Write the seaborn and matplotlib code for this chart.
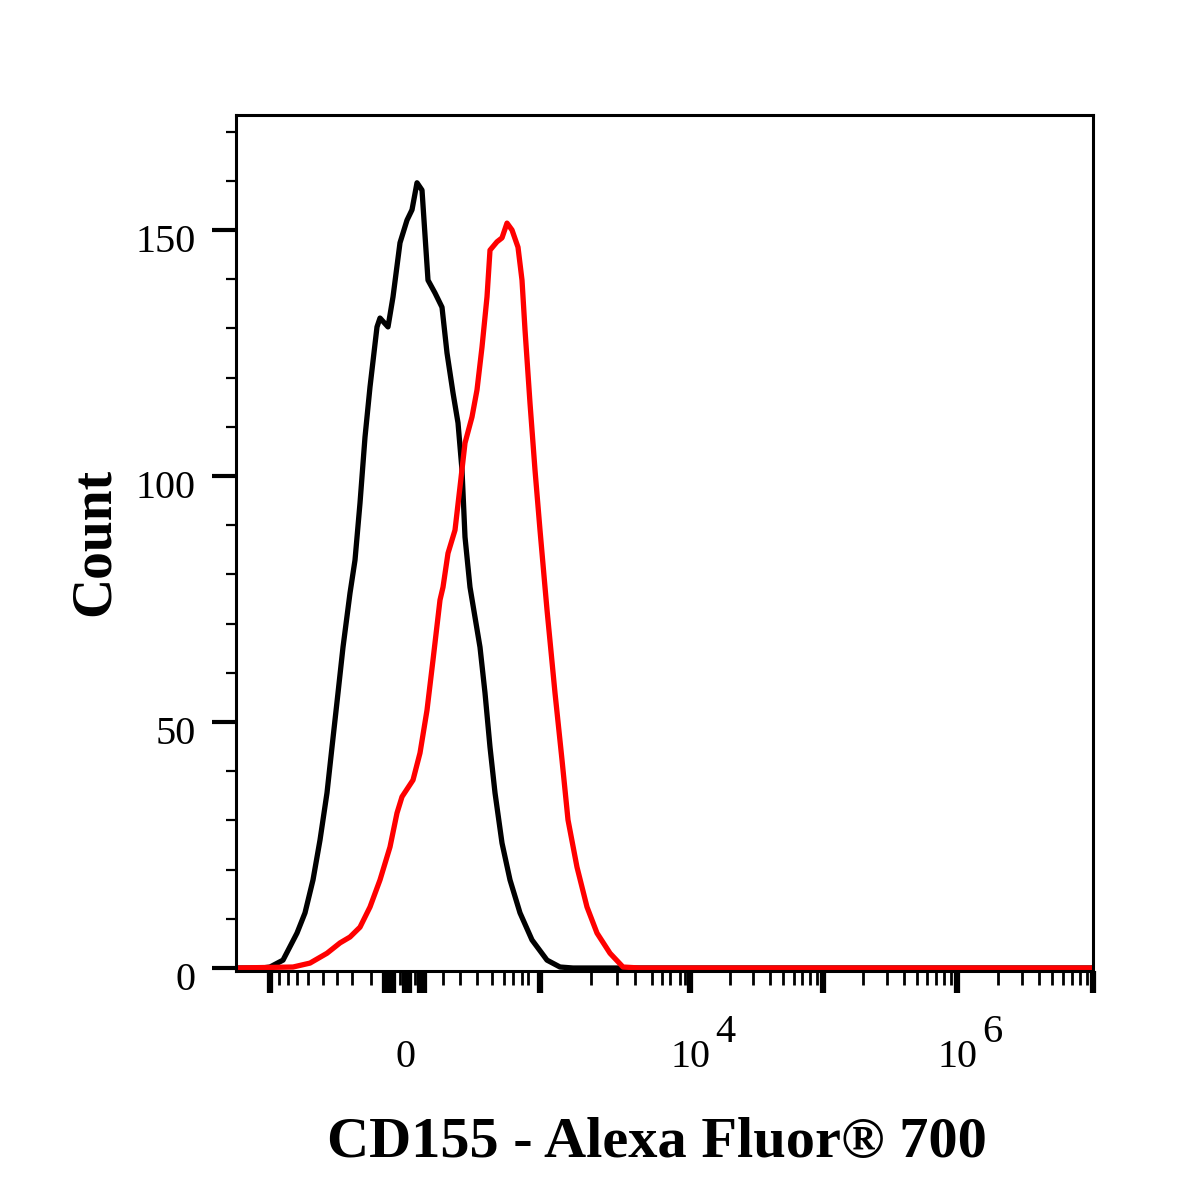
import numpy as np
import pandas as pd
import matplotlib
matplotlib.use("Agg")
import matplotlib.pyplot as plt
import matplotlib.transforms as mtransforms
import seaborn as sns

# display channel across the plot (0-857) and event counts
isotype_channel = [0, 26, 34, 47, 61, 69, 77, 84, 91, 96, 102, 107, 114, 119, 124, 129, 134, 141, 144, 152,
                   157, 164, 171, 176, 181, 186, 192, 199, 206, 211, 217, 222, 226, 229, 234, 244, 249, 254,
                   259, 266, 274, 284, 296, 311, 324, 337, 857]
isotype_count = [0, 0, 0.2, 1.6, 7.1, 11.2, 17.9, 26.0, 35.6, 44.9, 55.9, 65.2, 76.2, 82.9, 94.5, 107.9, 118.1,
                 130.3, 132.1, 130.3, 136.4, 147.4, 152.0, 154.1, 159.6, 158.1, 139.8, 137.2, 134.3, 125.0,
                 116.9, 110.8, 101.2, 87.6, 77.4, 65.2, 55.9, 44.9, 35.6, 25.4, 17.9, 11.2, 5.7, 1.6, 0.2, 0, 0]

cd155_channel = [0, 57, 74, 91, 104, 114, 124, 134, 144, 154, 161, 166, 177, 184, 191, 197, 204, 207, 212, 219,
                 224, 229, 236, 241, 246, 251, 254, 261, 266, 271, 276, 282, 286, 289, 294, 299, 304, 309, 311,
                 319, 326, 332, 341, 351, 361, 374, 387, 404, 857]
cd155_count = [0, 0.2, 1.0, 3.0, 5.1, 6.3, 8.3, 12.4, 17.9, 24.6, 31.5, 34.8, 38.2, 43.7, 52.4, 62.6, 74.8, 77.4,
               84.3, 89.0, 97.8, 106.7, 112.0, 117.5, 126.2, 136.4, 145.9, 147.6, 148.4, 151.4, 150.0, 146.5,
               139.8, 129.7, 114.8, 101.2, 89.0, 77.4, 72.8, 55.9, 42.3, 30.1, 20.5, 12.4, 7.1, 3.0, 0.2, 0, 0]

# biexponential axis: tick positions in display channels
x_major_pos = [34, 149, 153, 157, 169, 173, 184, 188, 304, 454, 587, 721, 857]
x_major_labels = ["", "", "", "", "0", "", "", "", "", "10", "", "10", ""]
x_exponents = {454: "4", 721: "6"}
x_minor_pos = [43, 52, 61, 72, 87, 101, 116, 135, 164, 179,
               207, 224, 241, 256, 268, 277, 286, 292,
               355, 381, 399, 416, 426, 434, 444, 449]
decade_edges = [454, 587, 721, 857]
for a, b in zip(decade_edges[:-1], decade_edges[1:]):
    x_minor_pos += [a + (b - a) * np.log10(m) for m in range(2, 10)]

y_major = [0, 50, 100, 150]
y_minor = [v for v in range(10, 180, 10) if v not in y_major]

df_iso = pd.DataFrame({"channel": isotype_channel, "count": isotype_count})
df_cd = pd.DataFrame({"channel": cd155_channel, "count": cd155_count})

sns.set_style("ticks")
plt.rcParams["font.family"] = ["Liberation Serif", "DejaVu Serif"]
plt.rcParams["text.color"] = "black"
plt.rcParams["axes.labelcolor"] = "black"
plt.rcParams["xtick.color"] = "black"
plt.rcParams["ytick.color"] = "black"

fig = plt.figure(figsize=(12, 12), dpi=100)
ax = fig.add_axes([0.19667, 0.19083, 0.71417, 0.71333])

sns.lineplot(data=df_iso, x="channel", y="count", color="black", lw=3.8,
             estimator=None, sort=False, ax=ax)
sns.lineplot(data=df_cd, x="channel", y="count", color="#ff0000", lw=3.8,
             estimator=None, sort=False, ax=ax)

ax.set_xlim(0, 857)
ax.set_ylim(-0.61, 173.37)

for s in ax.spines.values():
    s.set_linewidth(2.2)
    s.set_color("black")

ax.set_xticks(x_major_pos)
ax.set_xticklabels(x_major_labels)
ax.set_xticks(x_minor_pos, minor=True)
ax.set_yticks(y_major)
ax.set_yticklabels([str(v) for v in y_major])
ax.set_yticks(y_minor, minor=True)

ax.tick_params(axis="x", which="major", length=16, width=4.5, pad=33, labelsize=29,
               direction="out", color="black", labelcolor="black")
ax.tick_params(axis="x", which="minor", length=10, width=2, direction="out", color="black")
ax.tick_params(axis="y", which="major", length=17, width=3, pad=12, labelsize=29,
               direction="out", color="black", labelcolor="black")
ax.tick_params(axis="y", which="minor", length=7.5, width=1.6, direction="out", color="black")

shift = mtransforms.ScaledTranslation(0, -6 / 72, fig.dpi_scale_trans)
for lab in ax.get_yticklabels():
    lab.set_transform(lab.get_transform() + shift)

for pos, ex in x_exponents.items():
    ax.annotate(ex, xy=(pos, 0), xycoords=("data", "axes fraction"),
                xytext=(18, -51), textcoords="offset points",
                ha="left", va="baseline", fontsize=29, color="black")

ax.set_xlabel("CD155 - Alexa Fluor® 700", fontsize=42, fontweight="bold", va="center")
ax.set_ylabel("Count", fontsize=40, fontweight="bold", va="center")
ax.xaxis.set_label_coords(0.491, -0.201)
ax.yaxis.set_label_coords(-0.1645, 0.501)

fig.savefig("out.png", dpi=100, facecolor="white")
